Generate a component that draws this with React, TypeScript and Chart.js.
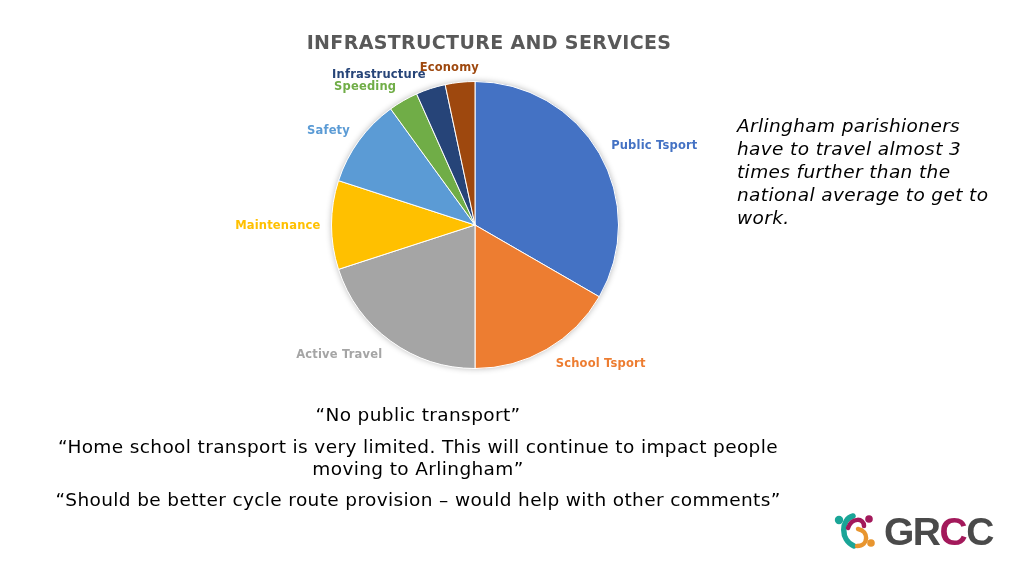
import React, { useEffect, useRef } from "react";
import { Chart, registerables } from "chart.js";

Chart.register(...registerables);

const categories = ["Public Tsport", "School Tsport", "Active Travel", "Maintenance", "Safety", "Speeding", "Infrastructure", "Economy"];
const counts = [10, 5, 6, 3, 3, 1, 1, 1];
const sliceColors = ["#4472C4", "#ED7D31", "#A5A5A5", "#FFC000", "#5B9BD5", "#70AD47", "#264478", "#9E480E"];
const labelColors = ["#4472C4", "#ED7D31", "#A5A5A5", "#FFC000", "#5B9BD5", "#70AD47", "#264478", "#9E480E"];

const chartTitle = "INFRASTRUCTURE AND SERVICES";
const sideText = ["Arlingham parishioners", "have to travel almost 3", "times further than the", "national average to get to", "work."];
const quotes = [
  "\u201CNo public transport\u201D",
  "\u201CHome school transport is very limited. This will continue to impact people",
  "moving to Arlingham\u201D",
  "\u201CShould be better cycle route provision \u2013 would help with other comments\u201D",
];

// label placement tweaks (dx, dy, align)
const labelAdjust: { dx: number; dy: number; align?: CanvasTextAlign }[] = [
  { dx: -2, dy: 1 },
  { dx: 1, dy: 1 },
  { dx: 1, dy: 1 },
  { dx: 5, dy: 1 },
  { dx: 4, dy: 0 },
  { dx: 1, dy: 0 },
  { dx: 0, dy: 2 },
  { dx: -9, dy: 2, align: "center" },
];

const FONT = "'DejaVu Sans', Verdana, sans-serif";

const labelPlugin = {
  id: "pieLabels",
  beforeDatasetsDraw(chart: any) {
    const meta = chart.getDatasetMeta(0);
    if (!meta.data.length) return;
    const a = meta.data[0];
    const ctx = chart.ctx;
    ctx.save();
    ctx.shadowColor = "rgba(0,0,0,0.3)";
    ctx.shadowBlur = 6;
    ctx.fillStyle = "#ffffff";
    ctx.beginPath();
    ctx.arc(a.x, a.y, a.outerRadius, 0, Math.PI * 2);
    ctx.fill();
    ctx.restore();
  },
  afterDatasetsDraw(chart: any) {
    const ctx = chart.ctx;
    const meta = chart.getDatasetMeta(0);
    ctx.save();
    ctx.font = `bold 11.5px ${FONT}`;
    (ctx as any).letterSpacing = "0.18px";
    ctx.textBaseline = "middle";
    meta.data.forEach((arc: any, i: number) => {
      const mid = (arc.startAngle + arc.endAngle) / 2;
      const r = arc.outerRadius + 16;
      const adj = labelAdjust[i] || { dx: 0, dy: 0 };
      const x = arc.x + Math.cos(mid) * r + adj.dx;
      const y = arc.y + Math.sin(mid) * r + adj.dy;
      ctx.textAlign = adj.align || (Math.cos(mid) >= 0 ? "left" : "right");
      ctx.fillStyle = labelColors[i];
      ctx.fillText(categories[i], x, y);
    });
    // title
    ctx.font = `bold 19px ${FONT}`;
    (ctx as any).letterSpacing = "0.35px";
    ctx.fillStyle = "#595959";
    ctx.textAlign = "center";
    ctx.fillText(chartTitle, 489, 44);
    ctx.restore();
  },
};

function Logo() {
  return (
    <div style={{ position: "absolute", left: 833, top: 510, width: 170, height: 44 }}>
      <svg width="50" height="44" viewBox="0 0 50 44" style={{ position: "absolute", left: 0, top: 0 }}>
        <circle cx="6" cy="10" r="4.2" fill="#1aa597" />
        <path d="M20 6 C8 9 7 30 21 36" stroke="#1aa597" strokeWidth="5.5" fill="none" strokeLinecap="round" />
        <circle cx="36" cy="9" r="3.8" fill="#a3195b" />
        <path d="M15 18 C19 7 31 8 31 16" stroke="#a3195b" strokeWidth="4.5" fill="none" strokeLinecap="round" />
        <path d="M25 19 C36 21 36 36 24 36" stroke="#e8952f" strokeWidth="4.5" fill="none" strokeLinecap="round" />
        <circle cx="38" cy="33" r="3.8" fill="#e8952f" />
      </svg>
      <div style={{ position: "absolute", left: 51, top: 0, fontFamily: "'Liberation Sans', Arial, sans-serif", fontWeight: 700, fontSize: 39, letterSpacing: -1.5, lineHeight: "44px", color: "#4a4a4a" }}>
        GR<span style={{ color: "#a3195b" }}>C</span>C
      </div>
    </div>
  );
}

const quoteStyle: React.CSSProperties = {
  position: "absolute",
  textAlign: "center",
  fontFamily: FONT,
  fontSize: 18.5,
  letterSpacing: 0.37,
  color: "#000",
  whiteSpace: "nowrap",
};

export default function App() {
  const canvasRef = useRef<HTMLCanvasElement | null>(null);

  useEffect(() => {
    if (!canvasRef.current) return;
    const chart = new Chart(canvasRef.current, {
      type: "pie",
      data: {
        labels: categories,
        datasets: [
          {
            data: counts,
            backgroundColor: sliceColors,
            borderColor: "#ffffff",
            borderWidth: 1,
          },
        ],
      },
      options: {
        responsive: false,
        animation: false,
        layout: { padding: { left: 331, top: 81, right: 405, bottom: 207 } },
        plugins: {
          legend: { display: false },
          tooltip: { enabled: false },
          title: { display: false },
        },
      },
      plugins: [labelPlugin],
    });
    return () => chart.destroy();
  }, []);

  return (
    <div style={{ position: "absolute", left: 0, top: 0, width: 1024, height: 576, background: "#ffffff", overflow: "hidden" }}>
      <canvas ref={canvasRef} width={1024} height={576} style={{ position: "absolute", left: 0, top: 0, width: 1024, height: 576 }} />
      <div style={{ position: "absolute", left: 737, top: 114, fontFamily: FONT, fontStyle: "italic", fontSize: 18.5, letterSpacing: 0.37, lineHeight: "23px", color: "#000000", whiteSpace: "nowrap" }}>
        {sideText.map((t, i) => (
          <div key={i}>{t}</div>
        ))}
      </div>
      <div style={{ ...quoteStyle, left: 118, width: 600, top: 403, lineHeight: "24px" }}>{quotes[0]}</div>
      <div style={{ ...quoteStyle, left: 18, width: 800, top: 436, lineHeight: "22px" }}>
        <div>{quotes[1]}</div>
        <div>{quotes[2]}</div>
      </div>
      <div style={{ ...quoteStyle, left: 18, width: 800, top: 488, lineHeight: "24px" }}>{quotes[3]}</div>
      <Logo />
    </div>
  );
}
